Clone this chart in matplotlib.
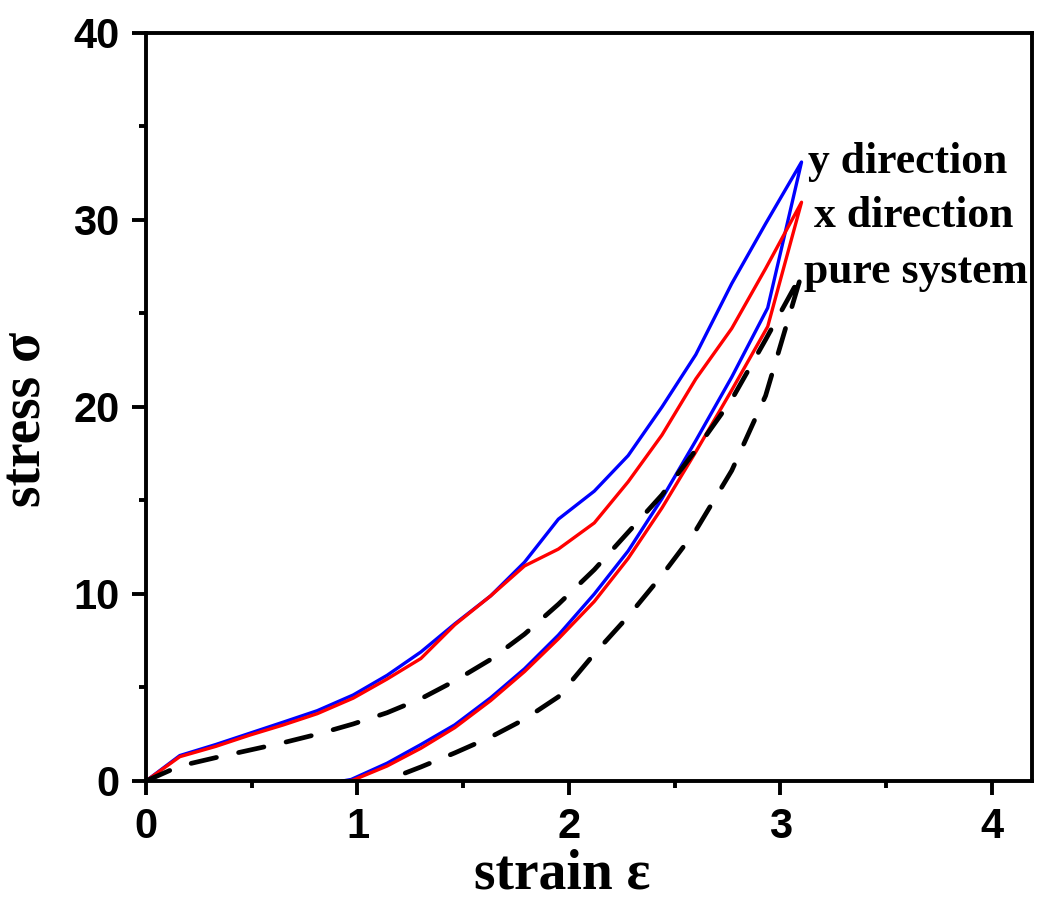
import matplotlib
matplotlib.use('Agg')

import matplotlib.pyplot as plt
import numpy as np

# Dados (strain, stress): carga seguida de descarga
strain_y = [0, 0.16, 0.33, 0.49, 0.65, 0.81, 0.98, 1.14, 1.30, 1.46, 1.63, 1.79, 1.95, 2.12,
            2.28, 2.44, 2.60, 2.77, 2.93, 3.10,
            2.94, 2.77, 2.60, 2.44, 2.28, 2.12, 1.95, 1.79, 1.63, 1.46, 1.30, 1.14, 0.97, 0.93]
stress_y = [0, 1.36, 1.95, 2.55, 3.15, 3.76, 4.6, 5.65, 6.9, 8.4, 9.9, 11.7, 14.0, 15.5,
            17.4, 20.0, 22.8, 26.6, 29.8, 33.1,
            25.3, 21.6, 18.2, 15.1, 12.3, 10.0, 7.8, 6.0, 4.45, 3.0, 1.95, 0.95, 0.08, 0]

strain_x = [0, 0.16, 0.33, 0.49, 0.65, 0.81, 0.98, 1.14, 1.30, 1.46, 1.63, 1.79, 1.95, 2.12,
            2.28, 2.44, 2.60, 2.77, 2.93, 3.10,
            2.94, 2.77, 2.60, 2.44, 2.28, 2.12, 1.95, 1.79, 1.63, 1.46, 1.30, 1.14, 0.98, 0.96]
stress_x = [0, 1.3, 1.85, 2.45, 3.0, 3.6, 4.43, 5.45, 6.55, 8.35, 9.9, 11.5, 12.4, 13.8,
            16.0, 18.5, 21.5, 24.2, 27.4, 30.95,
            24.3, 20.9, 17.6, 14.6, 11.9, 9.6, 7.6, 5.85, 4.3, 2.85, 1.75, 0.8, 0.05, 0]

strain_pure = [0, 0.16, 0.33, 0.49, 0.65, 0.81, 0.98, 1.14, 1.30, 1.46, 1.63, 1.79, 1.95, 2.12,
               2.28, 2.44, 2.60, 2.77, 2.93, 3.10,
               2.93, 2.77, 2.60, 2.44, 2.28, 2.12, 1.95, 1.79, 1.63, 1.46, 1.30, 1.14]
stress_pure = [0, 0.8, 1.25, 1.65, 2.05, 2.5, 3.05, 3.65, 4.4, 5.35, 6.5, 7.85, 9.45, 11.3,
               13.3, 15.3, 17.7, 20.4, 23.6, 27.1,
               20.6, 16.6, 13.4, 11.0, 8.8, 6.8, 4.5, 3.3, 2.35, 1.5, 0.75, 0.05]

labels = ['y direction', 'x direction', 'pure system']
label_pos = [(3.13, 33.1), (3.16, 30.2), (3.11, 27.2)]

fig = plt.figure(figsize=(10.39, 9.01), dpi=100)
ax = fig.add_axes([0.1405, 0.1332, 0.8528, 0.8302])

ax.plot(strain_y, stress_y, color='#0000ff', linewidth=2.4)
ax.plot(strain_x, stress_x, color='#ff0000', linewidth=2.4)
ax.plot(strain_pure, stress_pure, color='black', linewidth=3.4,
        linestyle=(0, (5.5, 4.8)), dash_capstyle='round')

for txt, (tx, ty) in zip(labels, label_pos):
    ax.text(tx, ty, txt, fontsize=31.5, fontweight='bold', family='Liberation Serif',
            ha='left', va='center', clip_on=False)

ax.set_xlim(0, 4.19)
ax.set_ylim(0, 40)
ax.set_xticks([0, 1, 2, 3, 4])
ax.set_yticks([0, 10, 20, 30, 40])
ax.set_xticks(np.arange(0.5, 4.0, 1), minor=True)
ax.set_yticks(np.arange(5, 40, 10), minor=True)

for s in ax.spines.values():
    s.set_linewidth(2.8)

ax.tick_params(which='major', direction='out', length=10, width=2.8, pad=9,
               labelsize=30, top=False, right=False)
ax.tick_params(which='minor', direction='out', length=5, width=2.8,
               top=False, right=False)
for lab in ax.get_xticklabels() + ax.get_yticklabels():
    lab.set_fontweight('bold')
    lab.set_family('Liberation Sans')

ax.set_xlabel('strain ε', fontsize=40, fontweight='bold', family='Liberation Serif')
ax.set_ylabel('stress σ', fontsize=40, fontweight='bold', family='Liberation Serif')
ax.xaxis.set_label_coords(0.47, -0.09)
ax.yaxis.set_label_coords(-0.106, 0.483)

fig.savefig('out.png', dpi=100)
